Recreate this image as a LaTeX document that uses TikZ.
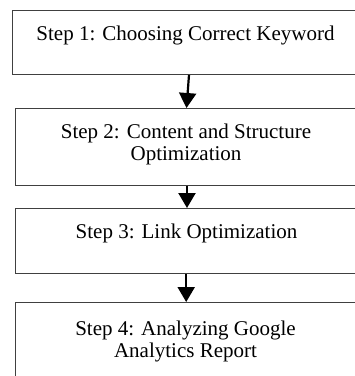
\documentclass[tikz,border=0pt]{standalone}
\usepackage{fontspec}
\setmainfont{Liberation Serif}
\usetikzlibrary{arrows.meta}
\tikzset{
  stepbox/.style={draw=black!75, line width=1pt, rectangle, inner sep=0pt, anchor=north west},
  steptext/.style={anchor=north, inner sep=0pt, align=center, font=\fontsize{21}{22}\selectfont},
  arr/.style={line width=2.2pt, -{Triangle[length=15pt,width=17pt]}}
}
\begin{document}
\begin{tikzpicture}[x=1pt,y=-1pt]
\useasboundingbox (0,0) rectangle (355,376);
\clip (0,0) rectangle (355,376);
\node[stepbox, minimum width=346pt, minimum height=64pt] (b1) at (12,10) {};
\node[stepbox, minimum width=343pt, minimum height=77pt] (b2) at (15,108) {};
\node[stepbox, minimum width=343pt, minimum height=65pt] (b3) at (15,208) {};
\node[stepbox, minimum width=343pt, minimum height=90pt] (b4) at (15,302) {};
\node[steptext] (t1) at (185.5,25.7) {Step 1: Choosing Correct Keyword};
\node[steptext] (t2) at (186,123.7) {Step 2: Content and Structure\\Optimization};
\node[steptext] (t3) at (186.5,223.7) {Step 3: Link Optimization};
\node[steptext] (t4) at (185.5,320.7) {Step 4: Analyzing Google\\Analytics Report};
\draw[arr] ([xshift=3.5pt]b1.south) -- ([xshift=-0.5pt]b2.north);
\draw[arr] (b2.south) -- (b3.north);
\draw[arr] ([xshift=-0.8pt]b3.south) -- ([xshift=-0.8pt]b4.north);
\end{tikzpicture}
\end{document}
